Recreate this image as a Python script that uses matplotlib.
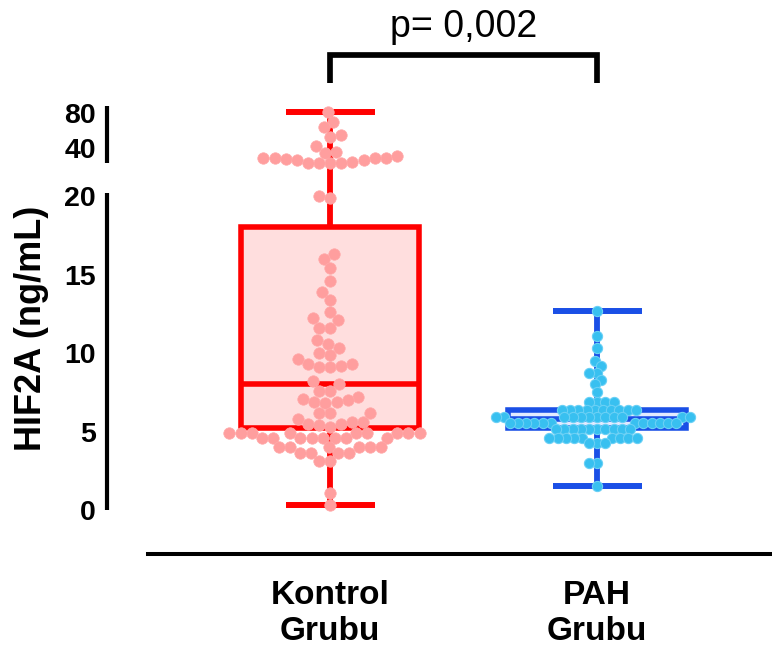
import numpy as np
import matplotlib
matplotlib.use('Agg')
import matplotlib.pyplot as plt
from matplotlib.transforms import blended_transform_factory

plt.rcParams['font.family'] = ['Liberation Sans', 'DejaVu Sans']
plt.rcParams['font.weight'] = 'bold'

# Grup adlari ve degerler (ng/mL)
grup_adlari = ['Kontrol\nGrubu', 'PAH\nGrubu']

kontrol = [81.5, 70.0, 63.5, 55.0, 53.0, 42.6, 35.8, 34.6,
           28.9, 28.9, 24.3, 23.2, 27.1, 30.9, 28.2, 23.2, 25.9, 23.2, 25.9, 23.2, 28.9,
           20.0, 19.9,
           16.3, 16.0, 15.4, 14.6, 13.9, 13.4, 12.6, 12.2, 12.1, 11.6, 11.6,
           10.8, 10.6, 10.3, 10.0, 9.9, 9.6, 9.3, 9.1, 9.3, 9.1, 9.2,
           8.2, 8.0, 7.6, 7.6, 7.2, 7.05, 7.0, 6.85, 6.9, 6.8, 6.15, 6.15, 6.15,
           5.8, 5.6, 5.5, 5.5, 5.4, 5.6, 5.3,
           4.9, 4.9, 4.9, 4.9, 4.9, 4.9, 4.9, 4.9, 4.9,
           4.6, 4.6, 4.6, 4.6, 4.6, 4.6, 4.6, 4.6,
           4.0, 4.0, 4.0, 4.0, 4.0, 4.0, 3.6, 3.6, 3.6, 3.6, 3.1, 3.1, 1.1, 0.3]

pah = [12.7, 11.1, 10.3, 9.5, 9.2, 8.75, 8.75, 8.3, 8.0, 7.5,
       6.9, 6.9, 6.9, 6.9,
       6.4, 6.4, 6.4, 6.4, 6.4, 6.4, 6.4, 6.4, 6.4, 6.4,
       5.9, 5.9, 5.9, 5.9, 5.9, 5.9, 5.9, 5.9, 5.9, 5.9, 5.9, 5.9,
       5.55, 5.55, 5.55, 5.55, 5.55, 5.55, 5.55, 5.55, 5.55, 5.55, 5.55, 5.55,
       5.15, 5.15, 5.15, 5.15, 5.15, 5.15, 5.15, 5.15, 5.15, 5.15,
       4.6, 4.6, 4.6, 4.6, 4.6, 4.6, 4.6, 4.6, 4.6,
       4.3, 4.3, 4.3, 3.0, 3.0, 1.55]

# Kutu istatistikleri (min-max biyik)
kontrol_kutu = dict(whislo=0.3, q1=5.2, med=8.0, q3=18.0, whishi=81.0)
pah_kutu = dict(whislo=1.55, q1=5.25, med=5.8, q3=6.35, whishi=12.7)

y_ticks = [0, 5, 10, 15, 20, 40, 80]
p_metni = 'p= 0,002'

# Kirik eksen: alt bolum lineer, ust bolum sikistirilmis
ALT_UST = 22.1
UST_ALT = 22.9
EGIM = 0.0557
EPS = 0.01
KAPI = ALT_UST + (UST_ALT - ALT_UST) * EPS


def ileri(v):
    v = np.asarray(v, dtype=float)
    return np.where(v <= ALT_UST, v,
                    np.where(v <= UST_ALT, ALT_UST + (v - ALT_UST) * EPS,
                             KAPI + (v - UST_ALT) * EGIM))


def geri(u):
    u = np.asarray(u, dtype=float)
    return np.where(u <= ALT_UST, u,
                    np.where(u <= KAPI, ALT_UST + (u - ALT_UST) / EPS,
                             UST_ALT + (u - KAPI) / EGIM))


def swarm_x(ax, degerler, xc, d):
    # basit beeswarm, piksel uzayinda
    pts = ax.transData.transform(np.column_stack([np.full(len(degerler), xc), degerler]))
    sira = np.argsort(degerler, kind='stable')
    yerlesen = []
    xs = np.zeros(len(degerler))
    for i in sira:
        x0, y0 = pts[i]
        adaylar = [x0]
        for px, py in yerlesen:
            dy = y0 - py
            if abs(dy) < d:
                dx = np.sqrt(d * d - dy * dy)
                adaylar += [px - dx, px + dx]
        adaylar.sort(key=lambda c: abs(c - x0))
        secilen = adaylar[0]
        for c in adaylar:
            if all((c - px) ** 2 + (y0 - py) ** 2 >= d * d - 1e-6 for px, py in yerlesen):
                secilen = c
                break
        yerlesen.append((secilen, y0))
        xs[i] = secilen
    geri_xy = ax.transData.inverted().transform(np.column_stack([xs, pts[:, 1]]))
    return geri_xy[:, 0]


fig = plt.figure(figsize=(7.72, 6.58), dpi=100)
ax = fig.add_axes([148 / 772, (658 - 553.5) / 658, 624 / 772, 447.5 / 658])
ax.set_yscale('function', functions=(ileri, geri))
ax.set_ylim(-2.77, 88)
ax.set_xlim(-0.682, 1.655)

for s in ['top', 'right']:
    ax.spines[s].set_visible(False)
ax.spines['left'].set_position(('outward', 29.5))
ax.spines['left'].set_bounds(0, 20.2)
ax.spines['left'].set_linewidth(3)
ax.spines['left'].set_capstyle('butt')
ax.spines['bottom'].set_linewidth(2.9)

# ust eksen parcasi
tr = blended_transform_factory(ax.transAxes, ax.transData)
ax.plot([-41 / 624, -41 / 624], [UST_ALT, 88], color='black', lw=3,
        transform=tr, clip_on=False, solid_capstyle='butt')

# kutular
renkler = [('#FF0000', '#FFDEDE'), ('#1A4FE6', '#E2EAFF')]
for poz, kutu, (kenar, dolgu) in zip([0, 1], [kontrol_kutu, pah_kutu], renkler):
    ax.bxp([kutu], positions=[poz], widths=0.665, capwidths=0.333,
           patch_artist=True, showfliers=False, manage_ticks=False,
           boxprops=dict(facecolor=dolgu, edgecolor=kenar, linewidth=4),
           whiskerprops=dict(color=kenar, linewidth=4.2, solid_capstyle='butt'),
           capprops=dict(color=kenar, linewidth=4.3, solid_capstyle='butt'),
           medianprops=dict(color=kenar, linewidth=4))

# noktalar
xk = swarm_x(ax, np.array(kontrol), 0, 11.2)
ax.scatter(xk, kontrol, s=68, color='#FF9E9E', edgecolors='#FFA8A8',
           linewidths=0.5, zorder=5, clip_on=False)
xp = swarm_x(ax, np.array(pah), 1, 8.2)
ax.scatter(xp, pah, s=54, color='#38C0F0', edgecolors='#6AD0F5',
           linewidths=0.8, zorder=5, clip_on=False)

ax.set_yticks(y_ticks)
ax.set_yticklabels([str(t) for t in y_ticks])
ax.tick_params(axis='y', length=0, pad=8, labelsize=20.5)
ax.set_xticks([0, 1])
ax.set_xticklabels(grup_adlari, linespacing=1.2)
ax.tick_params(axis='x', length=0, pad=19, labelsize=24)

fig.text(32 / 772, 1 - 328 / 658, 'HIF2A (ng/mL)', rotation=90,
         ha='center', va='center', fontsize=26, fontweight='bold')

# anlamlilik cizgisi
tr2 = blended_transform_factory(ax.transData, ax.transAxes)
ax.plot([0, 0, 1, 1], [1.052, 1.115, 1.115, 1.052], color='black', lw=4.1,
        transform=tr2, clip_on=False, solid_joinstyle='miter', solid_capstyle='butt')
ax.text(0.5, 1.155, p_metni, transform=tr2, ha='center', va='baseline',
        fontsize=27, fontweight='normal')

fig.savefig('out.png', dpi=100)
